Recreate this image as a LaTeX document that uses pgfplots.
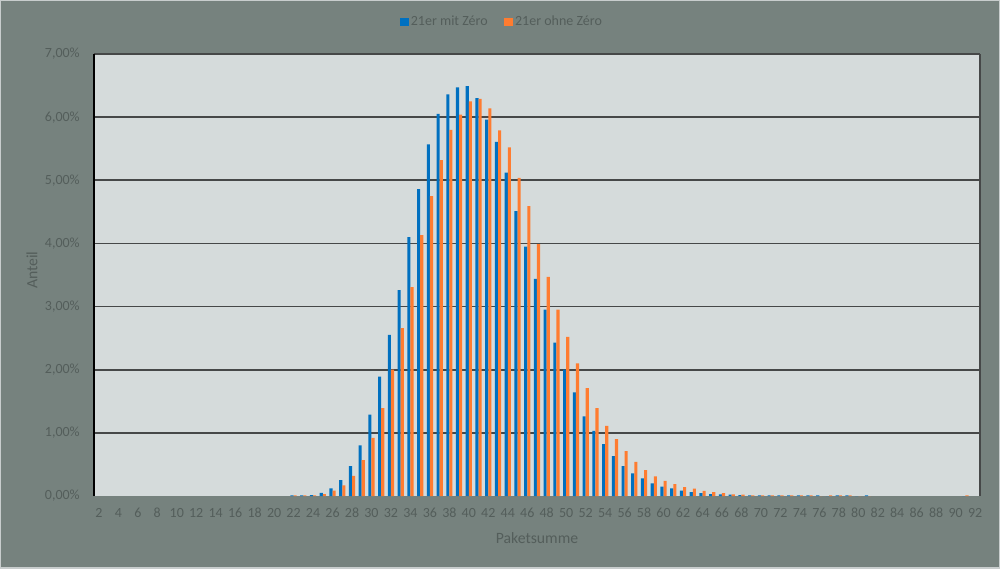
\documentclass[border=0pt]{standalone}
\usepackage{pgfplots}
\pgfplotsset{compat=1.18}
\usepackage{pgfplotstable}
\usepackage{fontspec}
\setmainfont{Carlito}
\definecolor{outerbg}{RGB}{118,130,126}
\definecolor{plotbg}{RGB}{213,219,219}
\definecolor{txt}{RGB}{84,94,91}
\definecolor{sblue}{RGB}{0,112,192}
\definecolor{sorange}{RGB}{255,124,48}
\definecolor{gridc}{RGB}{70,72,72}
\definecolor{edgec}{RGB}{200,205,205}
\pgfplotstableread{
c b o
22 0.01 0.01
23 0.01 0.01
24 0.015 0.01
25 0.05 0.03
26 0.12 0.085
27 0.25 0.17
28 0.475 0.32
29 0.80 0.57
30 1.29 0.92
31 1.89 1.39
32 2.55 2.00
33 3.26 2.66
34 4.10 3.31
35 4.86 4.13
36 5.57 4.75
37 6.05 5.32
38 6.36 5.80
39 6.47 6.04
40 6.49 6.25
41 6.30 6.29
42 5.96 6.14
43 5.61 5.79
44 5.12 5.52
45 4.51 5.04
46 3.95 4.59
47 3.44 3.99
48 2.95 3.47
49 2.43 2.95
50 2.00 2.52
51 1.64 2.10
52 1.26 1.71
53 1.03 1.39
54 0.82 1.11
55 0.63 0.90
56 0.475 0.71
57 0.36 0.54
58 0.28 0.41
59 0.20 0.31
60 0.15 0.24
61 0.12 0.19
62 0.085 0.14
63 0.06 0.115
64 0.045 0.08
65 0.03 0.06
66 0.025 0.045
67 0.02 0.025
68 0.015 0.02
69 0.01 0.01
70 0.01 0.01
71 0.01 0.01
72 0.01 0.01
73 0.01 0.01
74 0.01 0.01
75 0.01 0.01
76 0.01 0
77 0 0.01
78 0.01 0.01
79 0.01 0.01
80 0 0
81 0.01 0
91 0 0.01
}\data

\begin{document}
\begin{tikzpicture}
\fill[outerbg] (-70.5pt,-54pt) rectangle (679.5pt,372pt);
\begin{axis}[
  scale only axis, width=664.5pt, height=331.5pt,
  xmin=1.5, xmax=92.5, ymin=0, ymax=7,
  clip=false,
  axis background/.style={fill=plotbg},
  axis line style={draw=none},
  ybar, bar width=0.32,
  xtick={2,4,...,92},
  ytick={1,...,7},
  yticklabel={\pgfmathprintnumber[fixed,fixed zerofill,precision=2,use comma]{\tick}\%},
  extra y ticks={0},
  extra y tick style={grid=none},
  ymajorgrids, grid style={gridc, line width=1.2pt},
  major tick length=0pt,
  /pgf/number format/assume math mode=true,
  tick label style={font=\fontsize{10.5}{12}\selectfont, text=txt},
  xticklabel style={anchor=center, inner sep=0pt, yshift=-12.75pt},
  yticklabel style={anchor=east, inner sep=0pt, xshift=-10.5pt},
  xlabel={Paketsumme},
  xlabel style={at={(axis description cs:0.5,-0.095)}, anchor=center, font=\fontsize{11.8}{14}\selectfont, text=txt},
  ylabel={Anteil},
  ylabel style={at={(axis description cs:-0.07,0.511)}, anchor=center, font=\fontsize{11.8}{14}\selectfont, text=txt},
  legend columns=2,
  legend style={at={(axis description cs:0.4605,1.0724)}, anchor=center, draw=none, fill=none,
    font=\fontsize{10.5}{12}\selectfont, text=txt, inner sep=0pt,
    nodes={inner sep=1.5pt},
    /tikz/every even column/.append style={column sep=11pt}},
]
\addplot[fill=sblue, draw=none, bar shift=-0.16,
  legend image code/.code={\fill[sblue] (0pt,-3.3pt) rectangle (6.6pt,3.3pt);}] table[x=c, y=b] {\data};
\addlegendentry{21er mit Zéro}
\addplot[fill=sorange, draw=none, bar shift=0.16,
  legend image code/.code={\fill[sorange] (0pt,-3.3pt) rectangle (6.6pt,3.3pt);}] table[x=c, y=o] {\data};
\addlegendentry{21er ohne Zéro}
\draw[black, line width=1.2pt] (rel axis cs:0,0) -- (rel axis cs:0,1);
\draw[gridc, line width=1.2pt] (rel axis cs:1,0) -- (rel axis cs:1,1);
\end{axis}
\draw[edgec, line width=1.5pt] (-70.5pt,-54pt) rectangle (679.5pt,372pt);
\pgfresetboundingbox
\path (-70.5pt,-54pt) rectangle (679.5pt,372pt);
\end{tikzpicture}
\end{document}
